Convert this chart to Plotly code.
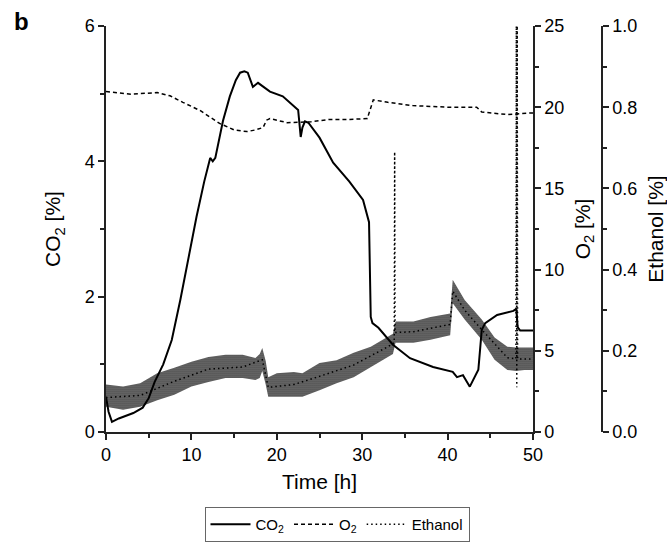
import plotly.graph_objects as go

# ---------------- data ----------------
co2_t = [0, 0.3, 0.7, 1.5, 3.2, 4.3, 5.0, 5.7, 6.7, 7.7, 8.7, 9.8, 10.6, 11.5, 12.2, 12.5,
         12.8, 13.7, 14.5, 15.2, 15.7, 16.2, 16.6, 17.2, 17.8, 19.2, 20.7, 22.5, 22.8, 23.0,
         23.3, 23.7, 25.0, 26.6, 28.5, 30.1, 30.8, 31.0, 31.2, 31.9, 33.6, 35.6, 38.3, 40.6,
         41.1, 41.8, 42.6, 43.6, 44.0, 44.4, 45.8, 47.7, 48.05, 48.2, 48.5, 49.1, 50]
co2 = [0.52, 0.3, 0.15, 0.2, 0.28, 0.36, 0.5, 0.74, 1.0, 1.36, 1.95, 2.69, 3.18, 3.7, 4.05, 4.0,
       4.05, 4.6, 4.96, 5.2, 5.31, 5.33, 5.31, 5.1, 5.16, 5.03, 4.96, 4.76, 4.36, 4.5,
       4.59, 4.57, 4.35, 3.98, 3.7, 3.43, 3.1, 1.7, 1.61, 1.54, 1.29, 1.09, 0.96, 0.89,
       0.81, 0.84, 0.67, 0.92, 1.51, 1.61, 1.73, 1.79, 1.82, 1.55, 1.5, 1.5, 1.5]

o2_t = [0, 3, 6, 7.5, 9, 11, 13.3, 15, 16.5, 17.5, 18.4, 18.8, 19.2, 21.2, 24, 26.2, 28.5,
        30.6, 30.9, 31.3, 33, 35.9, 38, 40, 42.8, 43.4, 44, 47, 49.6, 50]
o2 = [20.96, 20.8, 20.9, 20.7, 20.3, 19.8, 19.0, 18.6, 18.5, 18.6, 18.75, 19.2, 19.3, 19.05,
      19.1, 19.25, 19.25, 19.3, 19.8, 20.45, 20.3, 20.1, 20.05, 20.0, 20.0, 20.0, 19.7,
      19.55, 19.65, 19.65]

# ethanol: noisy band (lower / upper envelope) plus its dotted trace with spikes
eth_band_t = [0, 2, 4, 6, 8, 10, 12, 14, 16, 17.5, 18.0, 18.3, 18.7, 19, 20, 22, 23, 25, 27,
              29, 31, 33, 33.6, 33.9, 36, 38, 40.3, 40.6, 42, 44, 45.5, 47, 48, 49, 50]
eth_lo = [0.062, 0.055, 0.062, 0.078, 0.092, 0.112, 0.123, 0.133, 0.133, 0.128, 0.133, 0.15,
          0.117, 0.087, 0.087, 0.087, 0.087, 0.103, 0.12, 0.135, 0.16, 0.185, 0.192, 0.22,
          0.22, 0.227, 0.238, 0.317, 0.277, 0.227, 0.178, 0.153, 0.15, 0.153, 0.153]
eth_hi = [0.117, 0.112, 0.12, 0.145, 0.158, 0.173, 0.185, 0.19, 0.19, 0.182, 0.192, 0.207,
          0.175, 0.135, 0.145, 0.148, 0.145, 0.17, 0.177, 0.195, 0.21, 0.235, 0.242, 0.272,
          0.272, 0.283, 0.292, 0.375, 0.325, 0.277, 0.233, 0.21, 0.208, 0.208, 0.208]
eth_t = [0, 4, 8, 12, 16, 18.3, 19, 22, 25, 29, 33, 33.75, 33.8, 33.85, 36, 40.3, 40.6, 42,
         44, 47, 48.0, 48.05, 48.1, 48.15, 48.2, 49, 50]
eth = [0.085, 0.09, 0.125, 0.155, 0.16, 0.178, 0.11, 0.117, 0.137, 0.165, 0.21, 0.22, 0.69,
       0.245, 0.247, 0.265, 0.347, 0.3, 0.252, 0.183, 0.18, 1.0, 0.11, 1.0, 0.18, 0.18, 0.18]

FONT = "Liberation Sans, Arial, sans-serif"

fig = go.Figure()

fig.add_trace(go.Scatter(x=co2_t, y=co2, name="CO<sub>2</sub>", mode="lines",
                         line=dict(color="black", width=2)))
fig.add_trace(go.Scatter(x=o2_t, y=o2, name="O<sub>2</sub>", yaxis="y2", mode="lines",
                         line=dict(color="black", width=1.5, dash="4px,3px")))

# ethanol band (on ethanol axis)
fig.add_trace(go.Scatter(x=eth_band_t, y=eth_lo, yaxis="y3", mode="lines",
                         line=dict(width=0, color="black"), showlegend=False, hoverinfo="skip"))
fig.add_trace(go.Scatter(x=eth_band_t, y=eth_hi, yaxis="y3", mode="lines",
                         line=dict(width=0, color="black"), fill="tonexty",
                         fillcolor="rgba(0,0,0,0.45)",
                         fillpattern=dict(shape=".", fgcolor="black",
                                          bgcolor="rgba(0,0,0,0.5)", size=2, solidity=0.6),
                         showlegend=False, hoverinfo="skip"))
fig.add_trace(go.Scatter(x=eth_t, y=eth, name="Ethanol", yaxis="y3", mode="lines",
                         line=dict(color="black", width=1.5, dash="1.5px,3px")))

axis_common = dict(showline=True, linecolor="#222", linewidth=1.5, ticks="outside",
                   ticklen=6, tickwidth=1.5, tickcolor="#222", showgrid=False, zeroline=False,
                   automargin=False,
                   tickfont=dict(family=FONT, size=18, color="black"))


def minor(d):
    return dict(dtick=d, ticks="outside", ticklen=4, tickwidth=1.5, tickcolor="#222")


fig.update_layout(
    width=667, height=542, autosize=False,
    margin=dict(l=106, r=0, t=26, b=110),
    plot_bgcolor="white", paper_bgcolor="white",
    font=dict(family=FONT, color="black"),
    xaxis=dict(domain=[0, 427 / 561], range=[0, 50], dtick=10, minor=minor(5),
               title=dict(text="Time [h]", font=dict(family=FONT, size=21), standoff=10),
               **axis_common),
    yaxis=dict(range=[0, 6], dtick=2, minor=minor(1),
               title=dict(text="CO<sub>2</sub> [%]", font=dict(family=FONT, size=21), standoff=18),
               **axis_common),
    yaxis2=dict(range=[0, 25], dtick=5, overlaying="y", side="right", anchor="x",
                minor=minor(2.5),
                title=dict(text="O<sub>2</sub> [%]", font=dict(family=FONT, size=21), standoff=12),
                **axis_common),
    yaxis3=dict(range=[0, 1], dtick=0.2, tickformat=".1f", overlaying="y", side="right",
                anchor="free", position=(602 - 106) / 561, minor=minor(0.1),
                title=dict(text="Ethanol [%]", font=dict(family=FONT, size=21), standoff=15),
                **axis_common),
    legend=dict(orientation="h", x=(337 - 106) / 561, xanchor="center", y=-0.185,
                yanchor="top", bordercolor="#666", borderwidth=1, traceorder="normal",
                font=dict(family=FONT, size=15, color="black"), itemwidth=40,
                bgcolor="white"),
    showlegend=True,
)

fig.add_annotation(text="<b>b</b>", xref="paper", yref="paper",
                   x=(12 - 106) / 561, y=(432 - 6) / 406, xanchor="left", yanchor="top",
                   showarrow=False, font=dict(family=FONT, size=24, color="black"))

fig.write_html("out.html", config={"displayModeBar": False},
               post_script="document.body.style.margin='0';document.body.style.overflow='hidden';")
